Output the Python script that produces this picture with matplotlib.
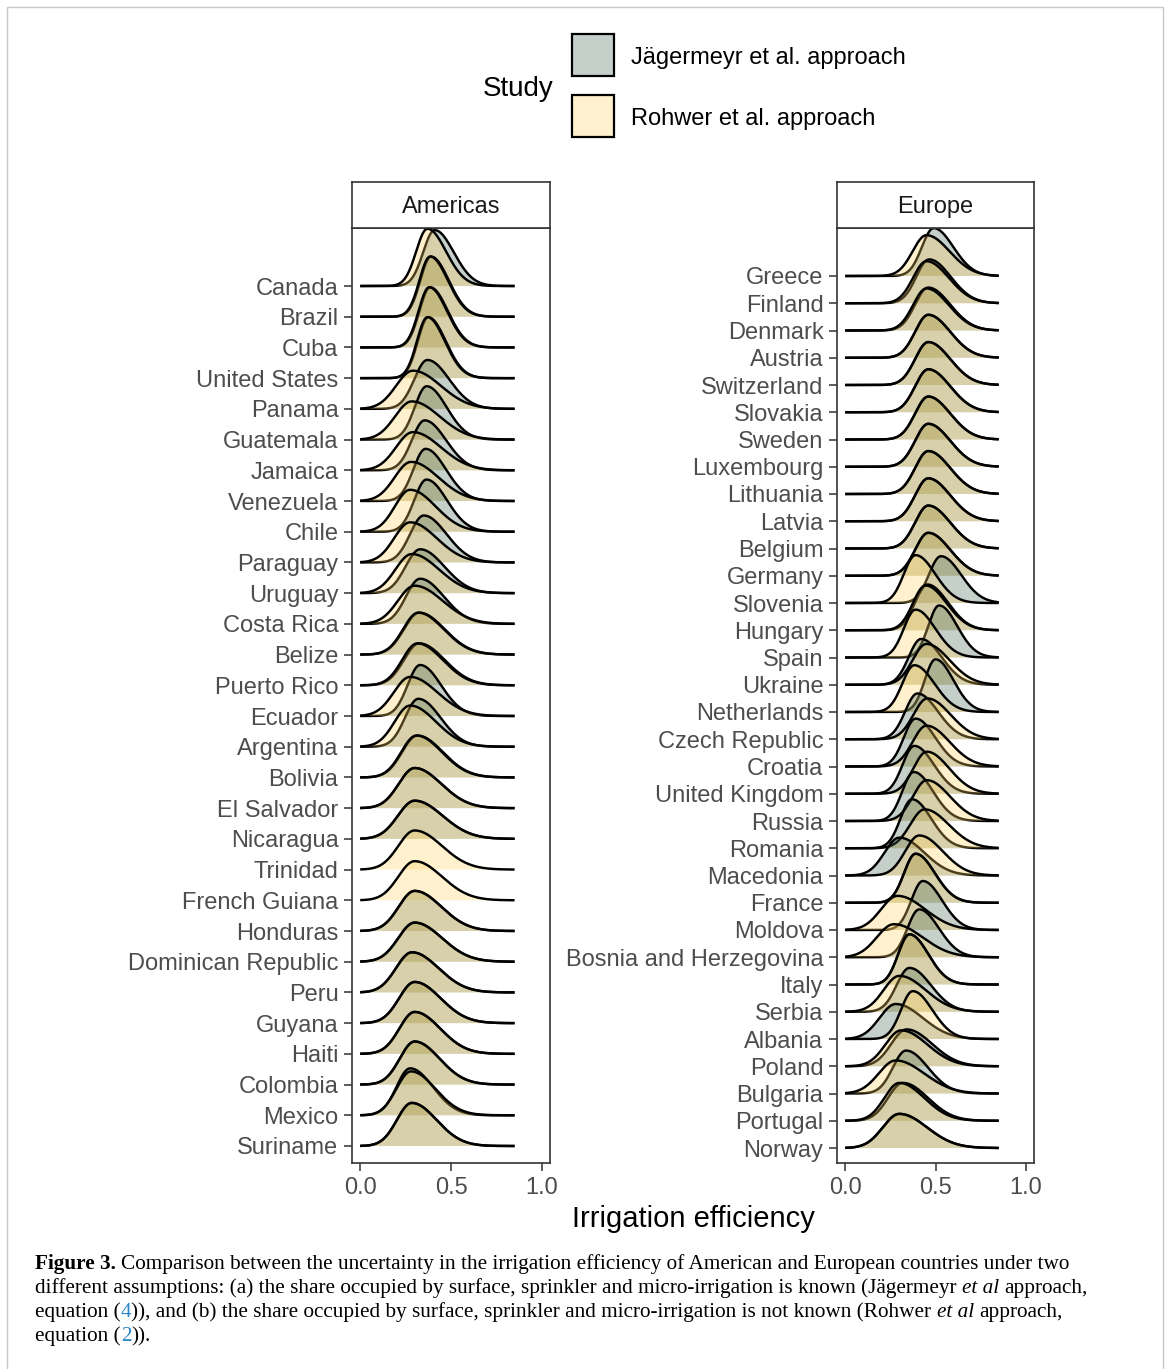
import numpy as np
import matplotlib
matplotlib.use("Agg")
import matplotlib.pyplot as plt
from matplotlib.patches import Rectangle

nan = np.nan

# ---------------- data ----------------
americas = ["Canada", "Brazil", "Cuba", "United States", "Panama", "Guatemala",
            "Jamaica", "Venezuela", "Chile", "Paraguay", "Uruguay", "Costa Rica",
            "Belize", "Puerto Rico", "Ecuador", "Argentina", "Bolivia", "El Salvador",
            "Nicaragua", "Trinidad", "French Guiana", "Honduras", "Dominican Republic",
            "Peru", "Guyana", "Haiti", "Colombia", "Mexico", "Suriname"]
am_jag_mode = [0.41, 0.39, 0.385, 0.375, 0.37, 0.366, 0.355, 0.36, 0.365, 0.35, 0.33, 0.33,
               0.325, 0.325, 0.33, 0.32, 0.315, 0.30, 0.30, nan, nan, 0.30, 0.30,
               0.285, 0.30, 0.30, 0.30, 0.275, 0.284]
am_jag_sd = [0.084, 0.078, 0.078, 0.077, 0.096, 0.088, 0.094, 0.090, 0.090, 0.100, 0.107, 0.104,
             0.112, 0.112, 0.092, 0.098, 0.112, 0.117, 0.123, nan, nan, 0.117, 0.120,
             0.117, 0.114, 0.112, 0.109, 0.100, 0.109]
am_roh_mode = [0.37, 0.385, 0.38, 0.37, 0.29, 0.284, 0.29, 0.28, 0.275, 0.275, 0.284, 0.30,
               0.32, 0.315, 0.275, 0.275, 0.31, 0.30, 0.30, 0.30, 0.30, 0.30, 0.30,
               0.285, 0.30, 0.30, 0.30, 0.28, 0.284]
am_roh_sd = [0.082, 0.078, 0.078, 0.077, 0.123, 0.123, 0.123, 0.120, 0.112, 0.117, 0.120, 0.123,
             0.112, 0.112, 0.120, 0.114, 0.112, 0.117, 0.123, 0.120, 0.120, 0.117, 0.120,
             0.117, 0.114, 0.112, 0.109, 0.107, 0.109]

europe = ["Greece", "Finland", "Denmark", "Austria", "Switzerland", "Slovakia", "Sweden",
          "Luxembourg", "Lithuania", "Latvia", "Belgium", "Germany", "Slovenia", "Hungary",
          "Spain", "Ukraine", "Netherlands", "Czech Republic", "Croatia", "United Kingdom",
          "Russia", "Romania", "Macedonia", "France", "Moldova", "Bosnia and Herzegovina",
          "Italy", "Serbia", "Albania", "Poland", "Bulgaria", "Portugal", "Norway"]
eu_jag_mode = [0.49, 0.465, 0.46, 0.46, 0.46, 0.46, 0.46, 0.46, 0.46, 0.46, 0.46, 0.46,
               0.53, 0.455, 0.52, 0.42, 0.50, 0.40, 0.39, 0.383, 0.38, 0.37, 0.30, 0.39,
               0.43, 0.41, 0.356, 0.356, 0.28, 0.34, 0.337, 0.32, 0.30]
eu_jag_sd = [0.087, 0.095, 0.097, 0.097, 0.097, 0.097, 0.097, 0.097, 0.097, 0.097, 0.097, 0.097,
             0.089, 0.091, 0.080, 0.091, 0.079, 0.091, 0.087, 0.087, 0.085, 0.085, 0.110, 0.085,
             0.085, 0.087, 0.083, 0.095, 0.119, 0.113, 0.097, 0.110, 0.122]
eu_roh_mode = [0.45, 0.45, 0.45, 0.46, 0.46, 0.46, 0.46, 0.46, 0.46, 0.46, 0.46, 0.46,
               0.39, 0.445, 0.39, 0.45, 0.383, 0.455, 0.45, 0.452, 0.452, 0.44, 0.41, 0.39,
               0.29, 0.27, 0.356, 0.30, 0.374, 0.31, 0.28, 0.30, 0.30]
eu_roh_sd = [0.102, 0.099, 0.099, 0.097, 0.097, 0.097, 0.097, 0.097, 0.097, 0.097, 0.097, 0.097,
             0.087, 0.093, 0.087, 0.102, 0.089, 0.102, 0.102, 0.099, 0.102, 0.107, 0.104, 0.085,
             0.122, 0.126, 0.083, 0.116, 0.087, 0.116, 0.126, 0.110, 0.122]

x_ticks = [0.0, 0.5, 1.0]
x_tick_labels = ["0.0", "0.5", "1.0"]
study_labels = ["Jägermeyr et al. approach", "Rohwer et al. approach"]

# ---------------- style ----------------
W, H = 1170, 1369
C_JAG = (68/255, 102/255, 85/255)
C_ROH = (255/255, 208/255, 95/255)
ALPHA = 0.3
SKEW_L, SKEW_R = 0.75, 1.25
HEIGHT_SCALE = 0.383       # row units per density unit
X_RANGE = (0.0, 0.85)
SANS = ['Liberation Sans', 'DejaVu Sans']
SERIF = ['Liberation Serif', 'DejaVu Serif']

plt.rcParams['font.family'] = SANS

fig = plt.figure(figsize=(W/100, H/100), dpi=100)


def density(x, m, s):
    sl, sr = SKEW_L * s, SKEW_R * s
    sig = np.where(x < m, sl, sr)
    return 2.0 / (np.sqrt(2*np.pi) * (sl + sr)) * np.exp(-0.5 * ((x - m) / sig) ** 2)


def fx(px):
    return px / W


def fy(py):
    return 1 - py / H


def panel(left_px, right_px, title, names, jm, js, rm, rs, ytop_extra, ybot_extra):
    n = len(names)
    assert len(jm) == n and len(js) == n and len(rm) == n and len(rs) == n
    ax = fig.add_axes([fx(left_px), fy(1163), (right_px - left_px)/W, (1163 - 228)/H])
    xg = np.linspace(X_RANGE[0], X_RANGE[1], 500)
    z = 2
    for i in range(n):
        y0 = n - i
        for m, s, c in ((jm[i], js[i], C_JAG), (rm[i], rs[i], C_ROH)):
            if np.isnan(m):
                continue
            h = density(xg, m, s) * HEIGHT_SCALE
            ax.fill_between(xg, y0, y0 + h, facecolor=c, alpha=ALPHA, linewidth=0, zorder=z)
            ax.plot(xg, y0 + h, color='black', lw=1.75, zorder=z + 0.5,
                    solid_capstyle='butt', solid_joinstyle='round')
            z += 1
    ax.set_xlim(-0.045, 1.045)
    ax.set_ylim(1 - ybot_extra, n + ytop_extra)
    ax.set_yticks(np.arange(n, 0, -1))
    ax.set_yticklabels(names)
    ax.set_xticks(x_ticks)
    ax.set_xticklabels(x_tick_labels)
    ax.tick_params(axis='both', length=6, width=1.1, color='#333333',
                   labelsize=17, labelcolor='#4D4D4D')
    ax.tick_params(axis='y', pad=3.8)
    ax.tick_params(axis='x', pad=4)
    for sp in ax.spines.values():
        sp.set_color('#333333')
        sp.set_linewidth(1.2)
    # strip
    sax = fig.add_axes([fx(left_px), fy(228), (right_px - left_px)/W, (228 - 182)/H])
    sax.set_xticks([])
    sax.set_yticks([])
    for sp in sax.spines.values():
        sp.set_color('#333333')
        sp.set_linewidth(1.2)
    sax.text(0.5, 0.45, title, ha='center', va='center', fontsize=17, color='#1A1A1A',
             transform=sax.transAxes)
    return ax


panel(352, 550, "Americas", americas, am_jag_mode, am_jag_sd, am_roh_mode, am_roh_sd,
      58/30.71, 17/30.71)
panel(837, 1034, "Europe", europe, eu_jag_mode, eu_jag_sd, eu_roh_mode, eu_roh_sd,
      48/27.25, 15/27.25)

# axis title
fig.text(fx(693), fy(1219), "Irrigation efficiency", ha='center', va='center',
         fontsize=21, color='black')

# legend
fig.text(fx(483), fy(89), "Study", ha='left', va='center', fontsize=20, color='black')
for k, (lab, c) in enumerate(zip(study_labels, (C_JAG, C_ROH))):
    top = 34 + k*61
    fig.add_artist(Rectangle((fx(572), fy(top + 42)), 42/W, 42/H, transform=fig.transFigure,
                             facecolor=(c[0], c[1], c[2], ALPHA), edgecolor='black', lw=1.6))
    fig.text(fx(631), fy(top + 24), lab, ha='left', va='center', fontsize=17, color='black')

# outer frame
fig.add_artist(Rectangle((fx(7), -0.01), (1163 - 7)/W, fy(7) + 0.01, transform=fig.transFigure,
                         fill=False, edgecolor='#C8C8C8', lw=1.0))

# caption
renderer = fig.canvas.get_renderer()
BLUE = '#2B86C5'
caption = [
    [("Figure 3.", 'bold', 'normal', 'black'),
     (" Comparison between the uncertainty in the irrigation efficiency of American and European countries under two", 'normal', 'normal', 'black')],
    [("different assumptions: (a) the share occupied by surface, sprinkler and micro-irrigation is known (Jägermeyr ", 'normal', 'normal', 'black'),
     ("et al", 'normal', 'italic', 'black'),
     (" approach,", 'normal', 'normal', 'black')],
    [("equation (", 'normal', 'normal', 'black'),
     ("4", 'normal', 'normal', BLUE),
     (")), and (b) the share occupied by surface, sprinkler and micro-irrigation is not known (Rohwer ", 'normal', 'normal', 'black'),
     ("et al", 'normal', 'italic', 'black'),
     (" approach,", 'normal', 'normal', 'black')],
    [("equation (", 'normal', 'normal', 'black'),
     ("2", 'normal', 'normal', BLUE),
     (")).", 'normal', 'normal', 'black')],
]


def text_width(s, size, weight='normal', style='normal'):
    t = fig.text(0, 0, s, fontsize=size, family=SERIF, weight=weight, style=style)
    w = t.get_window_extent(renderer).width
    t.remove()
    return w


def seg_width(s, size, weight, style):
    core = s.strip(' ')
    nl = len(s) - len(s.lstrip(' '))
    nr = len(s) - len(s.rstrip(' '))
    sp = text_width("x x", size, weight, style) - text_width("xx", size, weight, style)
    return (text_width(core, size, weight, style) if core else 0), nl * sp, nr * sp


base = 14.0
w2 = sum(sum(seg_width(s, base, wt, st)) for s, wt, st, c in caption[1])
size = base * (1057 / w2)

for li, line in enumerate(caption):
    xpos = 35.0
    ypos = 1269 + 24*li
    for s, wt, st, c in line:
        core_w, lsp, rsp = seg_width(s, size, wt, st)
        xpos += lsp
        fig.text(fx(xpos), fy(ypos), s.strip(' '), fontsize=size, family=SERIF, weight=wt,
                 style=st, color=c, ha='left', va='baseline')
        xpos += core_w + rsp

fig.savefig("out.png", dpi=100)
